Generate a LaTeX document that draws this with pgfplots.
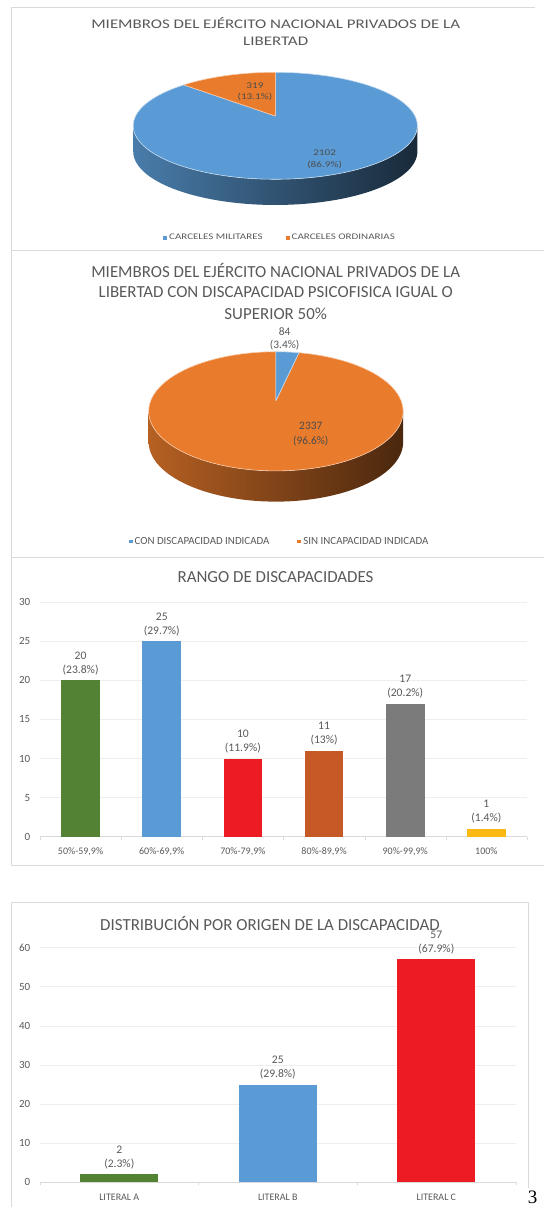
\documentclass[border=0pt]{standalone}
\usepackage{fontspec}
\setmainfont{Carlito}
\newfontfamily\serifnum{Liberation Serif}
\usepackage{graphicx}
\usepackage{pgfplots}
\pgfplotsset{compat=1.18}

\definecolor{pieblue}{HTML}{5B9BD5}
\definecolor{pieorange}{HTML}{E97B2C}
\definecolor{barblue}{HTML}{5B9BD5}
\definecolor{bargreen}{HTML}{548235}
\definecolor{barred}{HTML}{ED1C24}
\definecolor{barbrown}{HTML}{C55A26}
\definecolor{bargray}{HTML}{7B7B7B}
\definecolor{baryellow}{HTML}{FDB913}
\definecolor{inktext}{HTML}{595959}
\definecolor{panelline}{HTML}{DADADA}
\definecolor{gridline}{HTML}{EEEEEE}

% The top panel is set vertically compressed
\newcommand{\squash}[1]{\scalebox{1}[0.78]{#1}}

% Outline of a tilted disc with perspective: angles run clockwise from 12 o'clock.
% #1 start, #2 end, #3 vertical offset, #4 macro that receives the points
\newcommand{\buildarc}[4]{%
  \gdef#4{}%
  \pgfmathsetmacro\arcstep{(#2-(#1))/90}%
  \foreach \arcidx in {0,...,90}{%
    \pgfmathsetmacro\arcT{#1+\arcidx*\arcstep}%
    \pgfmathsetmacro\arcW{1+\pk*cos(\arcT)}%
    \pgfmathsetmacro\arcX{\pcx+\pb*sin(\arcT)/\arcW}%
    \pgfmathsetmacro\arcY{\pcy-\pa*cos(\arcT)/\arcW+#3}%
    \xdef#4{#4 (\arcX,\arcY)}%
  }%
}
\newcommand{\polyplot}[2]{%
  \edef\polytmp{\noexpand\addplot[forget plot,line join=round,#1] coordinates {#2};}\polytmp}

% First pie: prison type
\def\valAa{2102}\def\valAb{319}
\pgfmathsetmacro\angA{360*(\valAa/(\valAa+\valAb))}
\def\pcx{275.3}\def\pcy{116}\def\pb{139.7}\def\pa{51.7}\def\pk{0.183}
\buildarc{0}{\angA}{0}{\pieAblue}
\buildarc{\angA}{360}{0}{\pieAorange}
\buildarc{100.5}{259.5}{0}{\pieAfront}
\buildarc{259.5}{100.5}{25.7}{\pieAback}
\def\apexA{(275.3,116)}

% Second pie: recognised disability
\def\valBa{84}\def\valBb{2337}
\pgfmathsetmacro\angB{360*(\valBa/(\valBa+\valBb))}
\def\pcx{275.9}\def\pcy{400.7}\def\pb{125.2}\def\pa{57.7}\def\pk{0.1785}
\buildarc{0}{\angB}{0}{\pieBblue}
\buildarc{\angB}{360}{0}{\pieBorange}
\buildarc{100.3}{259.7}{0}{\pieBfront}
\buildarc{259.7}{100.3}{30.7}{\pieBback}
\def\apexB{(275.9,400.7)}

\pgfplotsset{
  /pgf/number format/assume math mode=true,
  pagecanvas/.style={
    at={(0pt,0pt)}, anchor=south west, scale only axis,
    width=544pt, height=1207pt,
    xmin=0, xmax=544, ymin=0, ymax=1207, y dir=reverse,
    hide axis, clip=false,
    title style={font=\fontsize{16.9}{20}\selectfont, text=inktext, align=center, yshift=-6pt},
    legend cell align=left,
    legend image code/.code={\fill[##1] (0pt,-1.8pt) rectangle (4pt,1.8pt);},
  },
  barpanel/.style={
    scale only axis, anchor=south west, clip=false,
    ymin=0,
    axis x line*=bottom, axis y line*=left,
    x axis line style={draw=panelline,-},
    y axis line style={draw=none},
    ymajorgrids, grid style={draw=gridline,line width=0.8pt},
    ytick style={draw=none},
    major x tick style={draw=none},
    minor x tick style={draw=panelline},
    minor tick length=3pt, tick align=outside,
    xticklabel style={font=\fontsize{10}{12}\selectfont, text=inktext, yshift=-3.5pt},
    yticklabel style={font=\fontsize{11}{13}\selectfont, text=inktext, xshift=-2pt},
    title style={font=\fontsize{16.9}{20}\selectfont, text=inktext, anchor=center, yshift=-6pt},
    ybar, point meta=y,
    visualization depends on={value \thisrow{pct}\as\pct},
    nodes near coords={\pgfmathprintnumber{\pgfplotspointmeta}\\(\pct\%)},
    nodes near coords style={align=center, font=\fontsize{11.6}{13.7}\selectfont,
      text=inktext, inner sep=1.5pt, yshift=4pt},
  },
}

\begin{document}
\begin{tikzpicture}
\path[use as bounding box] (0pt,0pt) rectangle (544pt,1207pt);
% Page frame and first pie
\begin{axis}[pagecanvas,
    title={\squash{MIEMBROS DEL EJÉRCITO NACIONAL PRIVADOS DE LA}\\[-3.5pt]\squash{LIBERTAD}},
    title style={at={(axis description cs:0.5068,0.9741)},anchor=center},
    legend style={at={(axis description cs:0.5147,0.8030)},anchor=center,draw=none,fill=none,
      font=\fontsize{11}{12}\selectfont,text=inktext,inner sep=0pt,
      legend columns=2,
      /tikz/every even column/.append style={column sep=21pt}},
  ]
  \addplot[forget plot,panelline,line width=0.8pt] coordinates {(535,7) (11.5,7) (11.5,250) (544,250)};
  \addplot[forget plot,panelline,line width=0.8pt] coordinates {(11.5,250) (11.5,557) (544,557)};
  \addplot[forget plot,panelline,line width=0.8pt] coordinates {(11.5,557) (11.5,865) (544,865)};
  \addplot[forget plot,panelline,line width=0.8pt] coordinates {(11.5,1207) (11.5,902.7) (528.5,902.7) (528.5,1188)};

  \polyplot{draw=none,left color=pieblue!80!black,middle color=pieblue!50!black,right color=pieblue!27!black}{\pieAfront\pieAback}
  \polyplot{fill=pieblue,draw=pieblue!35!white,line width=0.6pt}{\apexA\pieAblue\apexA}
  \polyplot{fill=pieorange,draw=pieorange!40!white,line width=0.6pt}{\apexA\pieAorange\apexA}

  \addlegendimage{fill=pieblue,draw=none}
  \addlegendentry{\squash{CARCELES MILITARES}}
  \addlegendimage{fill=pieorange,draw=none}
  \addlegendentry{\squash{CARCELES ORDINARIAS}}

  \node[align=center,text=black!70,font=\fontsize{11.2}{11.3}\selectfont] at (axis cs:255,91.5) {\squash{319}\\\squash{(13.1\%)}};
  \node[align=center,text=black!70,font=\fontsize{11.2}{12.3}\selectfont] at (axis cs:324.6,159.5) {\squash{2102}\\\squash{(86.9\%)}};
  \node[font=\fontsize{19}{21}\selectfont\serifnum,text=black] at (axis cs:532.5,1197) {3};
\end{axis}

% Second pie
\begin{axis}[pagecanvas,
    title={MIEMBROS DEL EJÉRCITO NACIONAL PRIVADOS DE LA\\LIBERTAD CON DISCAPACIDAD PSICOFISICA IGUAL O\\[2pt]SUPERIOR 50\%},
    title style={at={(axis description cs:0.5068,0.7583)},anchor=center},
    legend style={at={(axis description cs:0.5138,0.5515)},anchor=center,draw=none,fill=none,
      font=\fontsize{10.9}{12}\selectfont,text=inktext,inner sep=0pt,
      legend columns=2,
      /tikz/every even column/.append style={column sep=26pt}},
  ]
  \polyplot{draw=none,left color=pieorange!78!black,middle color=pieorange!55!black,right color=pieorange!32!black}{\pieBfront\pieBback}
  \polyplot{fill=pieorange,draw=pieorange!40!white,line width=0.6pt}{\apexB\pieBorange\apexB}
  \polyplot{fill=pieblue,draw=pieblue!35!white,line width=0.6pt}{\apexB\pieBblue\apexB}

  \addlegendimage{fill=pieblue,draw=none}
  \addlegendentry{CON DISCAPACIDAD INDICADA}
  \addlegendimage{fill=pieorange,draw=none}
  \addlegendentry{SIN INCAPACIDAD INDICADA}

  \node[align=center,text=inktext,font=\fontsize{11.4}{13.7}\selectfont] at (axis cs:284.7,339) {84\\(3.4\%)};
  \node[align=center,text=black!70,font=\fontsize{11.4}{14.3}\selectfont] at (axis cs:310.8,434) {2337\\(96.6\%)};
\end{axis}

% Disability range bars
\begin{axis}[barpanel,
    at={(40pt,370.3pt)}, width=487pt, height=234.4pt,
    xmin=-0.5, xmax=5.5, ymax=30,
    bar width=38.5pt, bar shift=0pt,
    xtick={0,...,5}, minor xtick={-0.5,0.5,...,5.5},
    ytick={0,5,...,30},
    xticklabels={{50\%-59,9\%},{60\%-69,9\%},{70\%-79,9\%},{80\%-89,9\%},{90\%-99,9\%},{100\%}},
    title={RANGO DE DISCAPACIDADES},
    title style={at={(axis description cs:0.4836,1.1067)}},
  ]
  \addplot[fill=bargreen,draw=none] table[row sep=\\,x=x,y=y] {x y pct\\ 0 20 23.8\\};
  \addplot[fill=barblue,draw=none] table[row sep=\\,x=x,y=y] {x y pct\\ 1 25 29.7\\};
  \addplot[fill=barred,draw=none] table[row sep=\\,x=x,y=y] {x y pct\\ 2 10 11.9\\};
  \addplot[fill=barbrown,draw=none] table[row sep=\\,x=x,y=y] {x y pct\\ 3 11 13\\};
  \addplot[fill=bargray,draw=none] table[row sep=\\,x=x,y=y] {x y pct\\ 4 17 20.2\\};
  \addplot[fill=baryellow,draw=none] table[row sep=\\,x=x,y=y] {x y pct\\ 5 1 1.4\\};
\end{axis}

% Origin of disability bars
\begin{axis}[barpanel,
    at={(40pt,24.7pt)}, width=475.6pt, height=234.6pt,
    xmin=-0.5, xmax=2.5, ymax=60,
    bar width=77.8pt, bar shift=0pt,
    xtick={0,1,2}, minor xtick={-0.5,0.5,1.5,2.5},
    xticklabels={LITERAL A,LITERAL B,LITERAL C},
    ytick={0,10,...,60},
    title={DISTRIBUCIÓN POR ORIGEN DE LA DISCAPACIDAD},
    title style={at={(axis description cs:0.4836,1.104)}},
  ]
  \addplot[fill=bargreen,draw=none] table[row sep=\\,x=x,y=y] {x y pct\\ 0 2 2.3\\};
  \addplot[fill=barblue,draw=none] table[row sep=\\,x=x,y=y] {x y pct\\ 1 25 29.8\\};
  \addplot[fill=barred,draw=none] table[row sep=\\,x=x,y=y] {x y pct\\ 2 57 67.9\\};
\end{axis}
\end{tikzpicture}
\end{document}
